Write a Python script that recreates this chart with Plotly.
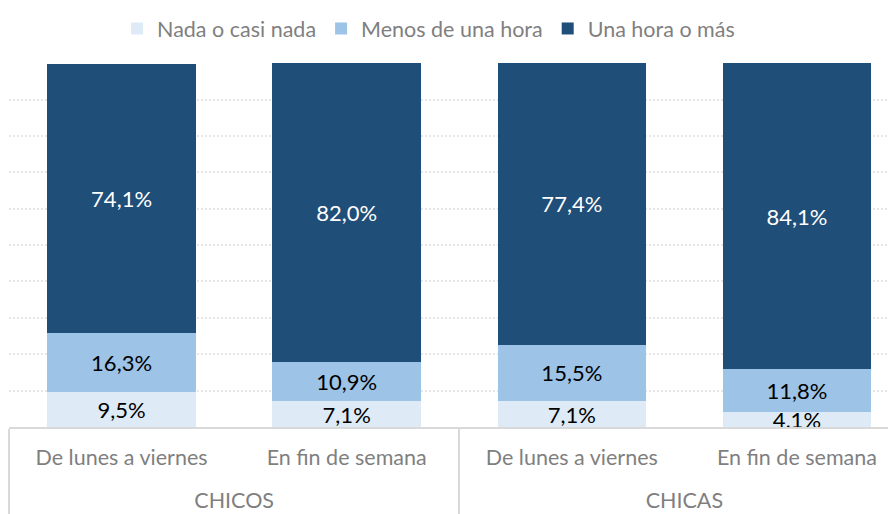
import plotly.graph_objects as go

groups = ["CHICOS", "CHICOS", "CHICAS", "CHICAS"]
periods = ["De lunes a viernes", "En fin de semana", "De lunes a viernes", "En fin de semana"]
series_names = ["Nada o casi nada", "Menos de una hora", "Una hora o más"]
nada = [9.5, 7.1, 7.1, 4.1]
menos = [16.3, 10.9, 15.5, 11.8]
una_hora = [74.1, 82.0, 77.4, 84.1]

colors = ["#DEEBF7", "#9DC3E6", "#1F4E79"]
text_colors = ["#000000", "#000000", "#FFFFFF"]

period_labels = [p + "<br><span style='font-size:8px'> </span>" for p in periods]

fig = go.Figure()
for name, vals, c, tc in zip(series_names, [nada, menos, una_hora], colors, text_colors):
    fig.add_trace(go.Bar(
        name=name,
        x=[groups, period_labels],
        y=vals,
        marker=dict(color=c, line=dict(width=0)),
        text=[f"{v:.1f}%".replace(".", ",") for v in vals],
        textposition="inside",
        insidetextanchor="middle",
        constraintext="none",
        textangle=0,
        textfont=dict(family="Lato", size=22, color=tc),
        width=0.66,
    ))

# page body has an 8px offset in the viewer, so the figure is sized to fit the visible area
fig.update_layout(
    barmode="stack",
    width=888, height=506,
    margin=dict(l=1, r=0, t=55, b=87, autoexpand=False),
    paper_bgcolor="white",
    plot_bgcolor="white",
    font=dict(family="Lato", color="#7F7F7F"),
    showlegend=True,
    legend=dict(
        orientation="h",
        x=0.473, xanchor="center",
        y=1.0, yanchor="top", yref="container",
        font=dict(size=21.5, color="#7F7F7F"),
        itemwidth=30,
        traceorder="normal",
        bgcolor="rgba(0,0,0,0)",
    ),
    xaxis=dict(
        type="multicategory",
        range=[-0.5, 3.44],
        automargin=False,
        showline=True, linecolor="#D9D9D9", linewidth=2,
        showdividers=True, dividercolor="#D9D9D9", dividerwidth=1.5,
        tickfont=dict(size=21.5, color="#7F7F7F"),
        ticks="", ticklabelstandoff=10,
        showgrid=False,
    ),
    yaxis=dict(
        range=[0, 100.05],
        dtick=10,
        automargin=False,
        showticklabels=False,
        showgrid=True,
        gridcolor="#E6E6E6",
        griddash="2px,2px",
        gridwidth=2,
        zeroline=False,
        showline=False,
    ),
)

fig.write_html("out.html")
